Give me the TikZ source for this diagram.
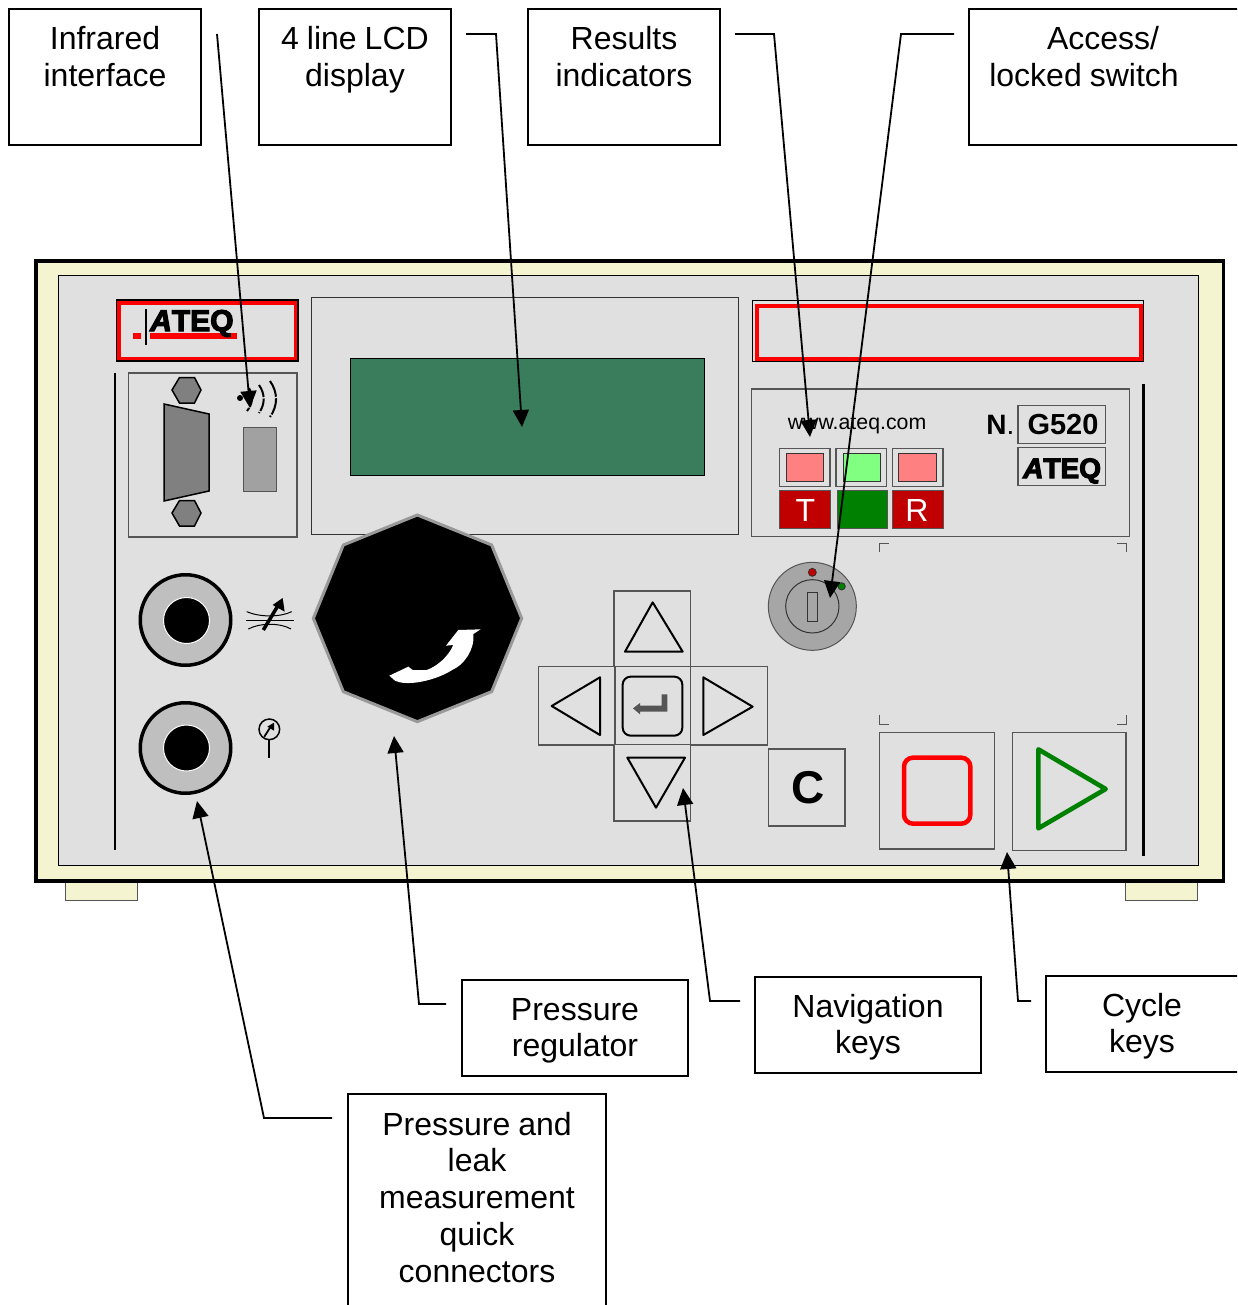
\documentclass[tikz,border=0pt]{standalone}
\usepackage{fontspec}
\setmainfont{Liberation Sans}
\newfontfamily\logoF[BoldFeatures={FakeBold=4},BoldItalicFeatures={FakeBold=4}]{Liberation Sans}
\usetikzlibrary{arrows.meta}
\definecolor{cream}{HTML}{F5F4D0}
\definecolor{panelgray}{HTML}{E0E0E0}
\definecolor{edgegray}{HTML}{555555}
\definecolor{lcdgreen}{HTML}{3A7D5C}
\definecolor{indred}{HTML}{C00000}
\definecolor{indgreen}{HTML}{008000}
\definecolor{softred}{HTML}{FF8080}
\definecolor{softgreen}{HTML}{80FF80}
\tikzset{
  labbox/.style={draw=black,line width=1.5pt,inner sep=0pt,outer sep=0pt,align=center,
    font=\fontsize{32}{36.8}\selectfont,anchor=north west,text height=41pt,
    execute at begin node={\spaceskip=8pt\relax}},
  lead/.style={draw=black,line width=1.8pt,-{Triangle[length=17pt,width=16pt]}},
  panelbox/.style={draw=edgegray,line width=1.2pt},
  thinblack/.style={draw=black,line width=1pt},
  bar/.style={draw=black,line width=2.5pt},
  jack/.style={circle,draw=black,line width=3.5pt,fill=black!25,minimum size=90.5pt,inner sep=0pt},
  jackcore/.style={circle,draw=white,line width=1pt,fill=black,minimum size=46pt,inner sep=0pt},
  hexnut/.style={draw=black,line width=1.5pt,fill=black!50},
  tri/.style={draw=black,line width=2pt,line join=round},
  panelfoot/.style={draw=edgegray,line width=1pt,fill=cream},
  bracket/.style={draw=edgegray,line width=1pt},
}
\begin{document}
\begin{tikzpicture}[x=1pt,y=-1pt]
\useasboundingbox (0,0) rectangle (1237,1305);
\clip (0,0) rectangle (1237,1305);
\fill[white] (0,0) rectangle (1237,1305);

% feet and panel
\draw[panelfoot] (65.5,880) rectangle (137.5,900.5);
\draw[panelfoot] (1125.5,880) rectangle (1197,900.5);
\draw[draw=black,line width=3.5pt,fill=cream] (36,261) rectangle (1223.3,881);
\draw[draw=black,line width=1pt,fill=panelgray] (58,275.5) rectangle (1198.7,865);

% side bars
\draw[bar] (115,373) -- (115,850);
\draw[bar] (1143.3,384) -- (1143.3,856);

% logo block
\draw[draw=black,line width=1.5pt] (116.5,300) rectangle (298,361);
\draw[draw=red,line width=3.5pt] (119,303) rectangle (295.5,358.5);
\fill[red] (133,333) rectangle (141,339);
\draw[draw=black,line width=1.2pt] (146,309) -- (146,345);
\fill[red] (150,333) rectangle (237,339);
\node[inner sep=0pt,anchor=base west,font=\logoF\bfseries\fontsize{30}{30}\selectfont] (logoa) at (150,331) {\textit{A}TEQ};

% upper right strip
\draw[thinblack] (752,301) rectangle (1143,361);
\draw[draw=red,line width=3.5pt] (757,306) rectangle (1141,359);

% LCD
\draw[thinblack,draw=black!80] (311.5,298) rectangle (738,534);
\draw[draw=black,line width=.8pt,fill=lcdgreen] (350.5,358) rectangle (704,475);

% serial block
\draw[panelbox] (128.5,373) rectangle (297,537);
\draw[hexnut] (172,390) -- (179.5,377.5) -- (194.5,377.5) -- (201,390) -- (194.5,403) -- (179.5,403) -- cycle;
\draw[hexnut] (172,513) -- (179.5,500.5) -- (194.5,500.5) -- (201,513) -- (194.5,526) -- (179.5,526) -- cycle;
\draw[hexnut] (164,404) -- (209,414) -- (209,491) -- (164,501) -- cycle;
\draw[draw=edgegray,line width=1pt,fill=black!37] (243,427) rectangle (276,491);
\fill[black] (240,398) circle (3pt);
\draw[draw=black,line width=2pt,dash pattern=on 9pt off 1.5pt] (249,388) to[bend left=35] (247,411);
\draw[draw=black,line width=2pt,dash pattern=on 13pt off 1.5pt] (259,385) to[bend left=35] (259,413);
\draw[draw=black,line width=2pt,dash pattern=on 17pt off 1.5pt] (270,381) to[bend left=35] (270,417);

% quick connectors
\node[jack] (jackA) at (185.5,620) {};
\node[jackcore] (coreA) at (186.5,620.5) {};
\node[jack] (jackB) at (185.5,748) {};
\node[jackcore] (coreB) at (186.5,748) {};

% valve symbol and gauge symbol
\begin{scope}[shift={(120,510)},scale=1/3]
\draw[draw=black,line width=1pt] (377,330) -- (523,330);
\draw[draw=black,line width=1pt] (380,305) .. controls (420,322) and (480,322) .. (515,305);
\draw[draw=black,line width=1pt] (385,357) .. controls (420,338) and (480,338) .. (513,357);
\draw[draw=black,line width=3.5pt] (430,360) -- (472,290);
\fill[black] (488,264) -- (494,305) -- (458,285) -- cycle;
\draw[draw=black,line width=1.5pt] (448,658) circle (31);
\draw[draw=black,line width=2pt] (448,690) -- (448,743);
\draw[draw=black,line width=1.8pt] (433,680) -- (452,650);
\fill[black] (462,638) -- (462,662) -- (442,650) -- cycle;
% knob
\draw[draw=black!40,line width=3pt,fill=black,line join=miter] (892,15) -- (1115,105) -- (1205,325) -- (1115,545) -- (892,635) -- (670,545) -- (580,325) -- (670,105) -- cycle;
\fill[white] (808,497) -- (865,470) -- (878,480) -- (920,480) .. controls (950,470) and (985,440) .. (1000,405) -- (978,407) -- (1015,360) -- (1082,358) -- (1060,372) .. controls (1065,420) and (1030,465) .. (1000,478) .. controls (950,510) and (880,525) .. (840,517) -- (825,512) -- cycle;
\end{scope}

% nav keys
\begin{scope}[shift={(530,585)},scale=1/3]
\draw[panelbox,fill=panelgray] (252,18) rectangle (482,245);
\draw[panelbox,fill=panelgray] (25,245) rectangle (255,480);
\draw[panelbox,fill=panelgray] (482,245) rectangle (712,480);
\draw[panelbox,fill=panelgray] (252,478) rectangle (482,708);
\draw[panelbox,fill=panelgray] (255,245) rectangle (482,478);
\draw[tri] (368,52) -- (458,200) -- (285,200) -- cycle;
\draw[tri] (65,363) -- (210,277) -- (210,450) -- cycle;
\draw[tri] (520,277) -- (668,365) -- (520,450) -- cycle;
\draw[tri] (292,518) -- (465,518) -- (378,668) -- cycle;
\draw[draw=black,line width=2pt,rounded corners=8pt] (278,275) rectangle (457,452);
\fill[edgegray] (412,328) -- (412,380) -- (330,380) -- (330,388) -- (309,370) -- (330,354) -- (330,362) -- (395,362) -- (395,328) -- cycle;
\draw[panelbox] (715,492) rectangle (945,723);
\end{scope}
\node[inner sep=0pt,font=\bfseries\fontsize{46}{46}\selectfont] (ckey) at (808.5,788) {C};

% indicator panel
\begin{scope}[shift={(750,380)},scale=1/3]
\draw[panelbox] (5,27) rectangle (1139,470);
\draw[panelbox] (88,205) rectangle (240,320);
\draw[panelbox] (258,205) rectangle (410,320);
\draw[panelbox] (427,205) rectangle (579,320);
\draw[draw=black!80,line width=1pt,fill=softred] (108,220) rectangle (221,305);
\draw[draw=black!80,line width=1pt,fill=softgreen] (280,220) rectangle (390,305);
\draw[draw=black!80,line width=1pt,fill=softred] (446,220) rectangle (560,305);
\draw[draw=edgegray,line width=1pt,fill=indred] (88,330) rectangle (240,445);
\draw[draw=edgegray,line width=1pt,fill=indgreen] (262,330) rectangle (413,445);
\draw[draw=edgegray,line width=1pt,fill=indred] (427,330) rectangle (579,445);
\draw[panelbox] (804,76) rectangle (1067,191);
\draw[panelbox] (804,202) rectangle (1067,316);
\draw[bracket] (388,517) -- (388,490) -- (416,490);
\draw[bracket] (1101,490) -- (1129,490) -- (1129,517);
\end{scope}
\node[inner sep=0pt,text=white,font=\fontsize{32}{32}\selectfont] (tlab) at (805.5,510) {T};
\node[inner sep=0pt,text=white,font=\fontsize{32}{32}\selectfont] (rlab) at (917,510) {R};
\node[inner sep=0pt,anchor=base,font=\fontsize{21.3}{21}\selectfont] (web) at (857,429) {www.ateq.com};
\node[inner sep=0pt,anchor=base east,font=\fontsize{28}{28}\selectfont] (nlab) at (1014.5,434) {\textbf{N}.};
\node[inner sep=0pt,anchor=base,font=\bfseries\fontsize{29}{29}\selectfont] (model) at (1063,434) {G520};
\node[inner sep=0pt,anchor=base west,font=\logoF\bfseries\fontsize{28}{28}\selectfont] (logob) at (1023,478) {\textit{A}TEQ};

% key switch
\begin{scope}[shift={(750,380)},scale=1/3]
\draw[draw=edgegray,line width=1pt,fill=black!35] (187,679) circle (132);
\draw[draw=black!80,line width=1pt] (187,679) circle (80);
\draw[draw=black!80,line width=1pt] (171,637) rectangle (203,725);
\draw[draw=black!80,line width=.8pt,fill=indred] (187,577) circle (12);
\draw[draw=black!80,line width=.8pt,fill=indgreen] (275,619) circle (11);
\end{scope}

% cycle keys
\begin{scope}[shift={(860,700)},scale=1/3]
\draw[bracket] (59,44) -- (59,72) -- (87,72);
\draw[bracket] (771,72) -- (799,72) -- (799,44);
\draw[panelbox] (59,98) rectangle (403,447);
\draw[panelbox] (458,98) rectangle (798,451);
\draw[draw=red,line width=4.5pt,rounded corners=9pt] (132,173) rectangle (331,371);
\draw[draw=indgreen,line width=4.6pt,line join=round] (535,148) -- (737,267) -- (535,385) -- cycle;
\end{scope}

% labels
\node[labbox,text width=192pt,minimum width=192pt,text depth=95pt] (lirda) at (9,9) {Infrared\\interface};
\node[labbox,text width=192pt,minimum width=192pt,text depth=95pt] (llcd) at (259,9) {4 line LCD\\display};
\node[labbox,text width=192pt,minimum width=192pt,text depth=95pt] (lres) at (528,9) {Results\\indicators};
\node[labbox,text width=331pt,minimum width=331pt,text depth=95pt] (lacc) at (969,9) {\hspace*{-63pt}Access/\\\hspace*{-101pt}locked switch};
\node[labbox,text width=226pt,minimum width=226pt,text height=40pt,text depth=56pt] (lreg) at (462,980) {Pressure\\regulator};
\node[labbox,text width=226pt,minimum width=226pt,text height=40pt,text depth=56pt] (lnav) at (755,977) {Navigation\\keys};
\node[labbox,text width=196pt,minimum width=196pt,text height=40pt,text depth=56pt] (lcyc) at (1046,976) {\hspace*{-4pt}Cycle\\\hspace*{-4pt}keys};
\node[labbox,text width=258pt,minimum width=258pt,text height=41pt,text depth=191pt] (lcon) at (348,1094) {Pressure and\\leak\\measurement\\quick\\connectors};

% leader end points
\coordinate (sIrda) at (217,34);
\coordinate (tIrda) at (250,408);
\coordinate (sLcd) at (466,34);
\coordinate (kLcd) at (496,34);
\coordinate (tLcd) at (522,427);
\coordinate (sRes) at (735,34);
\coordinate (kRes) at (774,34);
\coordinate (tRes) at (810,437);
\coordinate (sAcc) at (954,34);
\coordinate (kAcc) at (901,34);
\coordinate (tAcc) at (830,598);
\coordinate (sReg) at (446,1004);
\coordinate (kReg) at (419,1004);
\coordinate (tReg) at (394,736);
\coordinate (sNav) at (740,1001);
\coordinate (kNav) at (710,1001);
\coordinate (tNav) at (683,788);
\coordinate (sCyc) at (1031,1001);
\coordinate (kCyc) at (1018,1001);
\coordinate (tCyc) at (1007,852);
\coordinate (sCon) at (332,1118);
\coordinate (kCon) at (264,1118);
\coordinate (tCon) at (197,801);

\draw[lead] (sIrda) -- (tIrda);
\draw[lead] (sLcd) -- (kLcd) -- (tLcd);
\draw[lead] (sRes) -- (kRes) -- (tRes);
\draw[lead] (sAcc) -- (kAcc) -- (tAcc);
\draw[lead] (sReg) -- (kReg) -- (tReg);
\draw[lead] (sNav) -- (kNav) -- (tNav);
\draw[lead] (sCyc) -- (kCyc) -- (tCyc);
\draw[lead] (sCon) -- (kCon) -- (tCon);
\end{tikzpicture}
\end{document}
